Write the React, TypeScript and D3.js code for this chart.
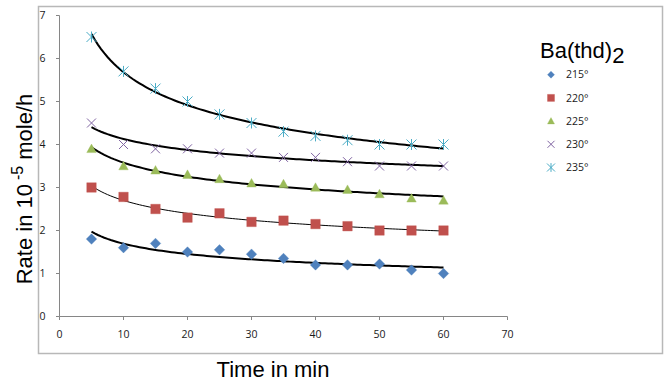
import React from 'react';
import * as d3 from 'd3';

const W = 668;
const H = 383;

// time in min
const times = [5, 10, 15, 20, 25, 30, 35, 40, 45, 50, 55, 60];

// rates in 10^-5 mole/h, one array per temperature
const rate215 = [1.8, 1.6, 1.7, 1.5, 1.55, 1.45, 1.35, 1.2, 1.2, 1.22, 1.08, 1.0];
const rate220 = [3.0, 2.78, 2.5, 2.3, 2.4, 2.2, 2.23, 2.15, 2.1, 2.0, 2.0, 2.0];
const rate225 = [3.9, 3.5, 3.4, 3.3, 3.2, 3.1, 3.08, 3.0, 2.95, 2.85, 2.75, 2.7];
const rate230 = [4.5, 4.0, 3.9, 3.9, 3.8, 3.8, 3.7, 3.7, 3.6, 3.5, 3.5, 3.5];
const rate235 = [6.5, 5.7, 5.3, 5.0, 4.7, 4.5, 4.3, 4.2, 4.1, 4.0, 4.0, 4.0];

const labels = ['215°', '220°', '225°', '230°', '235°'];
const colors = ['#4F81BD', '#C0504D', '#9BBB59', '#8064A2', '#4BACC6'];
const shapes = ['diamond', 'square', 'triangle', 'x', 'star'];
const trendWidths = [2, 1, 2, 2, 2];

const series = [rate215, rate220, rate225, rate230, rate235].map((vals, i) => ({
  label: labels[i],
  color: colors[i],
  shape: shapes[i],
  lw: trendWidths[i],
  points: vals.map((v, j) => ({ t: times[j], v })),
}));

const x = d3.scaleLinear().domain([0, 70]).range([59.5, 507.5]);
const y = d3.scaleLinear().domain([0, 7]).range([316.5, 15.5]);

// excel-like power trendline: ln v = ln a + b ln t
function powerFit(pts: { t: number; v: number }[]) {
  const lx = pts.map((p) => Math.log(p.t));
  const ly = pts.map((p) => Math.log(p.v));
  const mx = d3.mean(lx) as number;
  const my = d3.mean(ly) as number;
  let num = 0;
  let den = 0;
  lx.forEach((v, i) => {
    num += (v - mx) * (ly[i] - my);
    den += (v - mx) * (v - mx);
  });
  const b = num / den;
  const a = Math.exp(my - b * mx);
  return (t: number) => a * Math.pow(t, b);
}

function markerPath(shape: string, s: number) {
  const h = s / 2;
  switch (shape) {
    case 'diamond':
      return `M0,${-h}L${h},0L0,${h}L${-h},0Z`;
    case 'square':
      return `M${-h},${-h}H${h}V${h}H${-h}Z`;
    case 'triangle':
      return `M0,${-h}L${h},${h * 0.8}L${-h},${h * 0.8}Z`;
    case 'x':
      return `M${-h},${-h}L${h},${h}M${-h},${h}L${h},${-h}`;
    default:
      return `M${-h},${-h}L${h},${h}M${-h},${h}L${h},${-h}M0,${-h * 1.1}V${h * 1.1}`;
  }
}

function Marker({ shape, color, cx, cy, s }: { shape: string; color: string; cx: number; cy: number; s: number }) {
  const stroked = shape === 'x' || shape === 'star';
  return (
    <path
      d={markerPath(shape, s)}
      transform={`translate(${cx},${cy})`}
      fill={stroked ? 'none' : color}
      stroke={color}
      strokeWidth={stroked ? 1 : 0.6}
      strokeOpacity={stroked ? 1 : 0.6}
    />
  );
}

export default function App() {
  const tickFont = "'Open Sans', 'DejaVu Sans', sans-serif";
  const bigFont = "'Liberation Sans', Arial, sans-serif";

  return (
    <svg width={W} height={H} style={{ position: 'absolute', left: 0, top: 0, background: '#fff' }}>
      <rect x={38.5} y={6.5} width={624} height={347} fill="#fff" stroke="#b8b8b8" strokeWidth={1.5} />

      {/* axes */}
      <line x1={x(0)} x2={x(0)} y1={y(7)} y2={y(0)} stroke="#868686" />
      <line x1={x(0)} x2={x(70)} y1={y(0)} y2={y(0)} stroke="#868686" />
      {y.ticks(7).map((t) => (
        <g key={'y' + t}>
          <line x1={x(0) - 3.5} x2={x(0)} y1={y(t)} y2={y(t)} stroke="#868686" />
          <text x={45.5} y={y(t)} dy="0.35em" textAnchor="end" fontFamily={tickFont} fontSize={10.5} fill="#1a1a1a">
            {t}
          </text>
        </g>
      ))}
      {x.ticks(7).map((t) => (
        <g key={'x' + t}>
          <line x1={x(t)} x2={x(t)} y1={y(0)} y2={y(0) + 3.5} stroke="#868686" />
          <text x={x(t)} y={337.5} textAnchor="middle" fontFamily={tickFont} fontSize={10.5} fill="#1a1a1a">
            {t}
          </text>
        </g>
      ))}

      {/* trend lines */}
      {series.map((s) => {
        const f = powerFit(s.points);
        const ts = d3.range(5, 60.01, 0.5);
        const path = d3
          .line<number>()
          .x((t) => x(t))
          .y((t) => y(f(t)))(ts);
        return <path key={'tr' + s.label} d={path || ''} fill="none" stroke="#000" strokeWidth={s.lw} />;
      })}

      {/* markers */}
      {series.map((s) =>
        s.points.map((p) => (
          <Marker
            key={s.label + p.t}
            shape={s.shape}
            color={s.color}
            cx={x(p.t)}
            cy={y(p.v)}
            s={s.shape === 'star' ? 10 : s.shape === 'x' ? 9 : s.shape === 'diamond' ? 10.5 : 9.5}
          />
        ))
      )}

      {/* axis titles */}
      <text x={273} y={377} textAnchor="middle" fontFamily={bigFont} fontSize={22} fill="#000">
        Time in min
      </text>
      <text
        transform="translate(32,189) rotate(-90)"
        textAnchor="middle"
        fontFamily={bigFont}
        fontSize={22}
        fill="#000"
      >
        Rate in 10
        <tspan fontSize={16} dy={-9} dx={4}>
          -5
        </tspan>
        <tspan dy={9} dx={6}>
          mole/h
        </tspan>
      </text>

      {/* legend */}
      <text x={540} y={58} fontFamily={bigFont} fontSize={22} fill="#000">
        Ba(thd)
        <tspan dy={5}>2</tspan>
      </text>
      {series.map((s, i) => (
        <g key={'lg' + s.label} transform={`translate(0,${74.7 + i * 23.2})`}>
          <Marker shape={s.shape} color={s.color} cx={551} cy={0} s={s.shape === 'star' ? 8 : 7} />
          <text x={566} y={0} dy="0.35em" fontFamily={tickFont} fontSize={10.5} fill="#1a1a1a">
            {s.label}
          </text>
        </g>
      ))}
    </svg>
  );
}
